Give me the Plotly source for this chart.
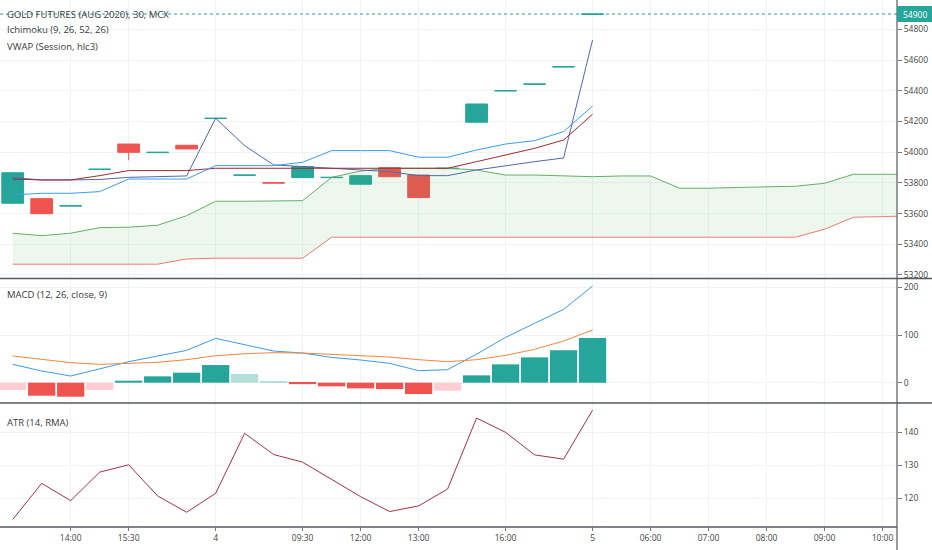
import plotly.graph_objects as go
from plotly.subplots import make_subplots

# ---------------- data ----------------
bars = list(range(21))
opens  = [53667, 53697, 53649, 53887, 54053, 53997, 54045, 54219, 53849, 53801, 53834,
          53834, 53791, 53899, 53851, 53893, 54195, 54399, 54442, 54555, 54898]
closes = [53866, 53599, 53651, 53889, 53999, 53999, 54021, 54221, 53851, 53799, 53906,
          53836, 53847, 53840, 53704, 53895, 54314, 54401, 54444, 54557, 54900]
highs  = [53866, 53697, 53651, 53889, 54053, 53999, 54045, 54221, 53851, 53801, 53906,
          53836, 53847, 53899, 53851, 53895, 54314, 54401, 54444, 54557, 54900]
lows   = [53667, 53599, 53649, 53887, 53947, 53997, 54021, 54219, 53849, 53799, 53834,
          53834, 53791, 53840, 53704, 53893, 54195, 54399, 54442, 54555, 54898]

conversion = [53721, 53732, 53732, 53743, 53825, 53825, 53825, 53912, 53912, 53912, 53934,
              54010, 54010, 54010, 53967, 53967, 54014, 54053, 54075, 54134, 54301]
base_line  = [53825, 53819, 53819, 53847, 53880, 53880, 53880, 53895, 53895, 53895, 53895,
              53895, 53895, 53895, 53895, 53895, 53938, 53982, 54025, 54079, 54247]
vwap       = [53834, 53819, 53819, 53822, 53836, 53840, 53845, 54221, 54042, 53917, 53906,
              53895, 53880, 53873, 53847, 53847, 53884, 53912, 53938, 53962, 54731]

cloud_bars = list(range(32))
lead_a = [53472, 53456, 53472, 53508, 53511, 53524, 53586, 53680, 53680, 53680, 53684,
          53836, 53877, 53895, 53895, 53895, 53884, 53851, 53851, 53845, 53840, 53845,
          53845, 53765, 53765, 53770, 53775, 53778, 53797, 53856, 53856, 53856]
lead_b = [53270, 53270, 53270, 53270, 53270, 53270, 53304, 53309, 53309, 53309, 53309,
          53446, 53446, 53446, 53446, 53446, 53446, 53446, 53446, 53446, 53446, 53446,
          53446, 53446, 53446, 53446, 53446, 53446, 53498, 53576, 53580, 53585]

macd   = [38.5, 24.5, 14.0, 28.7, 44.0, 56.0, 67.8, 93.0, 79.0, 66.4, 62.2,
          53.0, 47.6, 40.6, 25.2, 27.3, 60.0, 95.0, 124.5, 153.8, 202.8]
signal = [56.0, 48.3, 42.0, 38.5, 41.3, 42.7, 48.3, 56.6, 60.8, 63.0, 62.2,
          59.4, 57.3, 53.8, 48.3, 44.0, 48.3, 57.3, 70.0, 87.4, 110.5]
hist   = [-15.4, -27.3, -29.4, -15.4, 4.2, 13.3, 21.0, 37.0, 18.2, 3.5, -3.0,
          -7.7, -11.9, -13.3, -23.8, -16.8, 15.4, 38.5, 53.1, 67.8, 93.7]

atr = [113.6, 124.5, 119.3, 127.9, 130.1, 120.7, 115.8, 121.5, 139.6, 133.2, 130.9,
       125.8, 120.5, 116.0, 117.7, 122.8, 144.2, 139.9, 133.1, 131.8, 146.6]

last_price = 54900
x_tickvals = [2, 4, 7, 10, 12, 14, 17, 20, 22, 24, 26, 28, 30]
x_ticktext = ["14:00", "15:30", "4", "09:30", "12:00", "13:00", "16:00", "5",
              "06:00", "07:00", "08:00", "09:00", "10:00"]
price_ticks = [53200, 53400, 53600, 53800, 54000, 54200, 54400, 54600, 54800]
macd_ticks = [0, 100, 200]
atr_ticks = [120, 130, 140]

# ---------------- style ----------------
W, H = 932, 550
ML, MR, MT, MB = 0, 35, 0, 23
PW, PH = W - ML - MR, H - MT - MB
TEAL, RED = "#26A69A", "#EF5350"
GRID = "#F0F3FA"
FONT = "Open Sans"
TXT = "#444444"


def py(px):  # pixel row (from top) -> paper y
    return 1 - (px - MT) / PH


def pxx(px):
    return (px - ML) / PW


hist_colors = []
prev = None
for h in hist:
    rising = prev is None or h > prev
    if h >= 0:
        hist_colors.append(TEAL if rising else "#B2DFDB")
    else:
        hist_colors.append("#FFCDD2" if rising else RED)
    prev = h

fig = make_subplots(rows=3, cols=1, shared_xaxes=True, vertical_spacing=0)

fig.add_trace(go.Candlestick(
    x=bars, open=opens, high=highs, low=lows, close=closes,
    increasing=dict(line=dict(color=TEAL, width=1), fillcolor=TEAL),
    decreasing=dict(line=dict(color=RED, width=1), fillcolor=RED),
    whiskerwidth=0, showlegend=False), row=1, col=1)

fig.add_trace(go.Scatter(x=cloud_bars, y=lead_b, mode="lines",
                         line=dict(color="#F07A6E", width=1), showlegend=False), row=1, col=1)
fig.add_trace(go.Scatter(x=cloud_bars, y=lead_a, mode="lines", fill="tonexty",
                         fillcolor="rgba(76,175,80,0.10)",
                         line=dict(color="#62B066", width=1), showlegend=False), row=1, col=1)
fig.add_trace(go.Scatter(x=bars, y=vwap, mode="lines",
                         line=dict(color="#5068AE", width=1), showlegend=False), row=1, col=1)
fig.add_trace(go.Scatter(x=bars, y=base_line, mode="lines",
                         line=dict(color="#9B2B33", width=1), showlegend=False), row=1, col=1)
fig.add_trace(go.Scatter(x=bars, y=conversion, mode="lines",
                         line=dict(color="#3A9CEB", width=1), showlegend=False), row=1, col=1)

fig.add_trace(go.Bar(x=bars, y=hist, marker=dict(color=hist_colors, line=dict(width=0)),
                     width=0.94, showlegend=False), row=2, col=1)
fig.add_trace(go.Scatter(x=bars, y=macd, mode="lines",
                         line=dict(color="#3A9CEB", width=1), showlegend=False), row=2, col=1)
fig.add_trace(go.Scatter(x=bars, y=signal, mode="lines",
                         line=dict(color="#F5863A", width=1), showlegend=False), row=2, col=1)

fig.add_trace(go.Scatter(x=bars, y=atr, mode="lines",
                         line=dict(color="#A53247", width=1), showlegend=False), row=3, col=1)

xr = [-0.438, 30.5]
dom_main = [py(278), 1]
dom_macd = [py(403), py(278)]
dom_atr = [0, py(403)]

common_x = dict(range=xr, tickvals=x_tickvals, showgrid=True, gridcolor=GRID, gridwidth=1,
                zeroline=False, showline=False, rangeslider=dict(visible=False))
fig.update_layout(
    xaxis=dict(**common_x, showticklabels=False),
    xaxis2=dict(**common_x, showticklabels=False),
    xaxis3=dict(**common_x, ticktext=x_ticktext, showticklabels=True, ticks="outside",
                ticklen=3, tickcolor="#777", tickfont=dict(family=FONT, size=8.5, color=TXT)),
)
common_y = dict(side="right", showgrid=True, gridcolor=GRID, zeroline=False, showline=False,
                ticks="outside", ticklen=4, tickcolor="#777", tickformat="d",
                tickfont=dict(family=FONT, size=8.5, color=TXT))
fig.update_layout(
    yaxis=dict(**common_y, domain=dom_main, range=[53180, 54991.5], tickvals=price_ticks),
    yaxis2=dict(**common_y, domain=dom_macd, range=[-42.6, 219.6], tickvals=macd_ticks),
    yaxis3=dict(**common_y, domain=dom_atr, range=[111.34, 148.75], tickvals=atr_ticks),
)

shapes = [
    dict(type="line", xref="paper", yref="y", x0=0, x1=1, y0=last_price, y1=last_price,
         line=dict(color=TEAL, width=1, dash="dot")),
    dict(type="line", xref="paper", yref="paper", x0=0, x1=W / PW, y0=py(278.5), y1=py(278.5),
         line=dict(color="#555a60", width=1.5)),
    dict(type="line", xref="paper", yref="paper", x0=0, x1=W / PW, y0=py(403), y1=py(403),
         line=dict(color="#555a60", width=1.5)),
    dict(type="line", xref="paper", yref="paper", x0=0, x1=1, y0=0, y1=0,
         line=dict(color="#555a60", width=1.5)),
    dict(type="line", xref="paper", yref="paper", x0=1, x1=1, y0=py(H), y1=1,
         line=dict(color="#555a60", width=1.2)),
    dict(type="rect", xref="paper", yref="paper", x0=1, x1=W / PW, y0=py(22), y1=py(6),
         fillcolor=TEAL, line=dict(width=0)),
]

annos = []
for txt, ypx in [("GOLD FUTURES (AUG 2020), 30, MCX", 14), ("Ichimoku (9, 26, 52, 26)", 30),
                 ("VWAP (Session, hlc3)", 46), ("MACD (12, 26, close, 9)", 294),
                 ("ATR (14, RMA)", 422)]:
    annos.append(dict(text=txt, xref="paper", yref="paper", x=pxx(5), y=py(ypx),
                      xanchor="left", yanchor="middle", showarrow=False,
                      font=dict(family=FONT, size=9.5, color="#3a3a3a")))
annos.append(dict(text=f"{last_price}", xref="paper", yref="y", x=pxx(914.5), y=last_price,
                  xanchor="center", yanchor="middle", showarrow=False,
                  font=dict(family=FONT, size=8.5, color="white")))

fig.update_layout(
    width=W, height=H, margin=dict(l=ML, r=MR, t=MT, b=MB),
    paper_bgcolor="white", plot_bgcolor="white",
    boxgap=0.25, boxgroupgap=0, bargap=0.05,
    shapes=shapes, annotations=annos, showlegend=False,
)

fig.write_html("out.html", config={"displayModeBar": False},
               post_script="document.body.style.margin='0';document.body.style.overflow='hidden';")
